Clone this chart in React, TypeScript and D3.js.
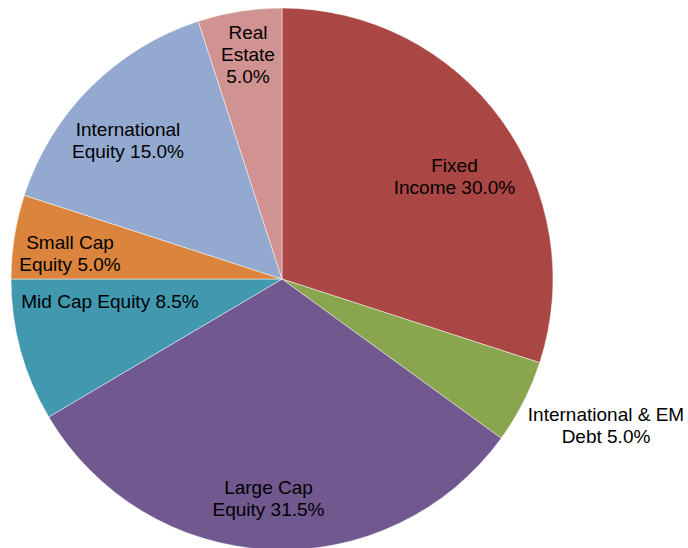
import React from "react";
import * as d3 from "d3";

const categories = [
  "Fixed Income",
  "International & EM Debt",
  "Large Cap Equity",
  "Mid Cap Equity",
  "Small Cap Equity",
  "International Equity",
  "Real Estate",
];
const values = [30.0, 5.0, 31.5, 8.5, 5.0, 15.0, 5.0];
const labelLines = [
  ["Fixed", "Income 30.0%"],
  ["International & EM", "Debt 5.0%"],
  ["Large Cap", "Equity 31.5%"],
  ["Mid Cap Equity 8.5%"],
  ["Small Cap", "Equity 5.0%"],
  ["International", "Equity 15.0%"],
  ["Real", "Estate", "5.0%"],
];
const colors = ["#AA4643", "#89A54E", "#71588F", "#4198AF", "#DB843D", "#93A9CF", "#D19392"];
// label anchor (center x, first baseline y) relative to pie center
const labelAnchors: [number, number][] = [
  [172.5, -107],
  [324, 142],
  [-13.5, 215],
  [-172, 29],
  [-212, -30],
  [-154, -143],
  [-34, -240],
];

const W = 688;
const H = 548;
const cx = 282;
const cy = 279;
const R = 271;
const lineH = 22;

export default function App() {
  const pie = d3.pie<number>().sort(null).value((d) => d).startAngle(0).endAngle(2 * Math.PI);
  const arcs = pie(values);
  const arcGen = d3.arc<d3.PieArcDatum<number>>().innerRadius(0).outerRadius(R);
  return (
    <svg width={W} height={H} style={{ position: "absolute", left: 0, top: 0, background: "#fff" }}>
      <g transform={`translate(${cx},${cy})`}>
        {arcs.map((a, i) => (
          <path key={categories[i]} d={arcGen(a) || ""} fill={colors[i]} stroke="#fff" strokeWidth={0.6} strokeOpacity={0.8} />
        ))}
        {labelLines.map((lines, i) => (
          <text
            key={"l" + i}
            x={labelAnchors[i][0]}
            y={labelAnchors[i][1]}
            textAnchor="middle"
            fontFamily="'Liberation Sans', Arial, sans-serif"
            fontSize={19}
            fill="#000"
          >
            {lines.map((ln, j) => (
              <tspan key={j} x={labelAnchors[i][0]} y={labelAnchors[i][1] + j * lineH}>
                {ln}
              </tspan>
            ))}
          </text>
        ))}
      </g>
    </svg>
  );
}
